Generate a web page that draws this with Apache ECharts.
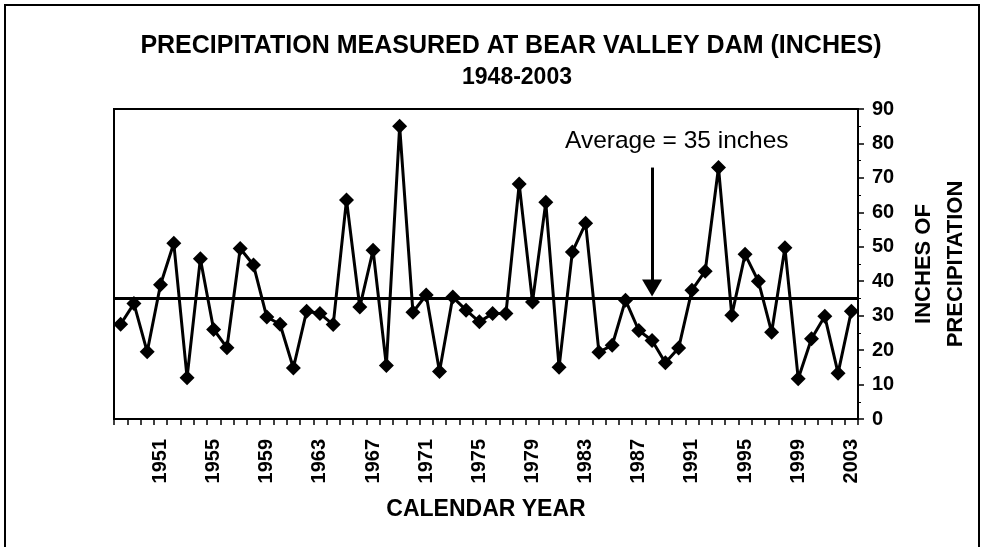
<!DOCTYPE html>
<html>
<head>
<meta charset="utf-8">
<script src="https://cdn.jsdelivr.net/npm/echarts@6/dist/echarts.min.js"></script>
<style>
  html, body { margin: 0; padding: 0; background: #fff; }
  #chart { width: 983px; height: 547px; }
</style>
</head>
<body>
<div id="chart"></div>
<script>
// calendar years 1948-2003
const years = []
for (let y = 1948; y <= 2003; y++) years.push(String(y))

// precipitation (inches)
const precip = [
  27.5, 33.5, 19.5, 39, 51, 12, 46.5, 26, 20.7, 49.5,
  44.7, 29.6, 27.5, 14.8, 31.3, 30.6, 27.4, 63.6, 32.5, 49,
  15.5, 85, 31, 36, 13.8, 35.4, 31.6, 28.2, 30.6, 30.6,
  68.2, 34, 62.9, 15, 48.5, 56.8, 19.4, 21.4, 34.5, 25.7,
  22.8, 16.3, 20.6, 37.4, 42.9, 73, 30.1, 47.8, 40, 25.2,
  49.7, 11.7, 23.3, 29.8, 13.3, 31.3
]

const average = 35
const arrowYear = '1988'
const arrowFrom = 73
const arrowTo = 38

const font = '"Liberation Sans", Arial, sans-serif'

const chart = echarts.init(document.getElementById('chart'))

chart.setOption({
  backgroundColor: '#fff',
  animation: false,
  title: [
    {
      text: 'PRECIPITATION MEASURED AT BEAR VALLEY DAM (INCHES)',
      left: 506,
      top: 29,
      textAlign: 'center',
      textStyle: { fontSize: 25, fontWeight: 'bold', fontFamily: font, color: '#000' }
    },
    {
      text: '1948-2003',
      left: 512,
      top: 61,
      textAlign: 'center',
      textStyle: { fontSize: 23, fontWeight: 'bold', fontFamily: font, color: '#000' }
    }
  ],
  grid: {
    left: 114,
    right: 125,
    top: 109,
    bottom: 128,
    show: true,
    backgroundColor: '#fff',
    borderColor: '#000',
    borderWidth: 2
  },
  xAxis: {
    type: 'category',
    data: years,
    boundaryGap: true,
    axisLine: { lineStyle: { color: '#000', width: 2 } },
    axisTick: { show: true, interval: 0, length: 6, lineStyle: { color: '#000', width: 1.5 } },
    axisLabel: {
      interval: (i) => (i - 3) % 4 === 0,
      rotate: 90,
      margin: 20,
      color: '#000',
      fontSize: 20,
      fontWeight: 'bold',
      fontFamily: font
    },
    name: 'CALENDAR YEAR',
    nameLocation: 'middle',
    nameGap: 79,
    nameTextStyle: { fontSize: 23, fontWeight: 'bold', fontFamily: font, color: '#000' }
  },
  yAxis: {
    type: 'value',
    position: 'right',
    min: 0,
    max: 90,
    interval: 10,
    axisLine: { show: true, lineStyle: { color: '#000', width: 2 } },
    axisTick: { show: true, length: 6, lineStyle: { color: '#000', width: 1.5 } },
    minorTick: { show: true, splitNumber: 2, length: 3, lineStyle: { color: '#000', width: 1 } },
    splitLine: { show: false },
    axisLabel: { margin: 14, color: '#000', fontSize: 20, fontWeight: 'bold', fontFamily: font },
    name: 'INCHES OF\nPRECIPITATION',
    nameLocation: 'middle',
    nameRotate: 90,
    nameGap: 50,
    nameTextStyle: { fontSize: 22, fontWeight: 'bold', fontFamily: font, color: '#000', lineHeight: 32 }
  },
  series: [
    {
      type: 'line',
      data: precip,
      symbol: 'diamond',
      symbolSize: 15,
      showSymbol: true,
      showAllSymbol: true,
      itemStyle: { color: '#000' },
      lineStyle: { color: '#000', width: 3 },
      markLine: {
        silent: true,
        symbol: 'none',
        label: { show: false },
        lineStyle: { color: '#000', width: 3, type: 'solid' },
        data: [
          { yAxis: average },
          [
            { coord: [arrowYear, arrowFrom], symbol: 'none' },
            { coord: [arrowYear, arrowTo], symbol: 'triangle', symbolSize: [20, 17] }
          ]
        ]
      }
    }
  ],
  graphic: [
    {
      type: 'rect',
      silent: true,
      z: -1,
      shape: { x: 5, y: 5, width: 974, height: 560 },
      style: { fill: 'none', stroke: '#000', lineWidth: 2 }
    },
    {
      type: 'text',
      left: 565,
      top: 129,
      style: { text: 'Average = 35 inches', fontSize: 24.5, fontFamily: font, fill: '#000' }
    }
  ]
})
</script>
</body>
</html>
